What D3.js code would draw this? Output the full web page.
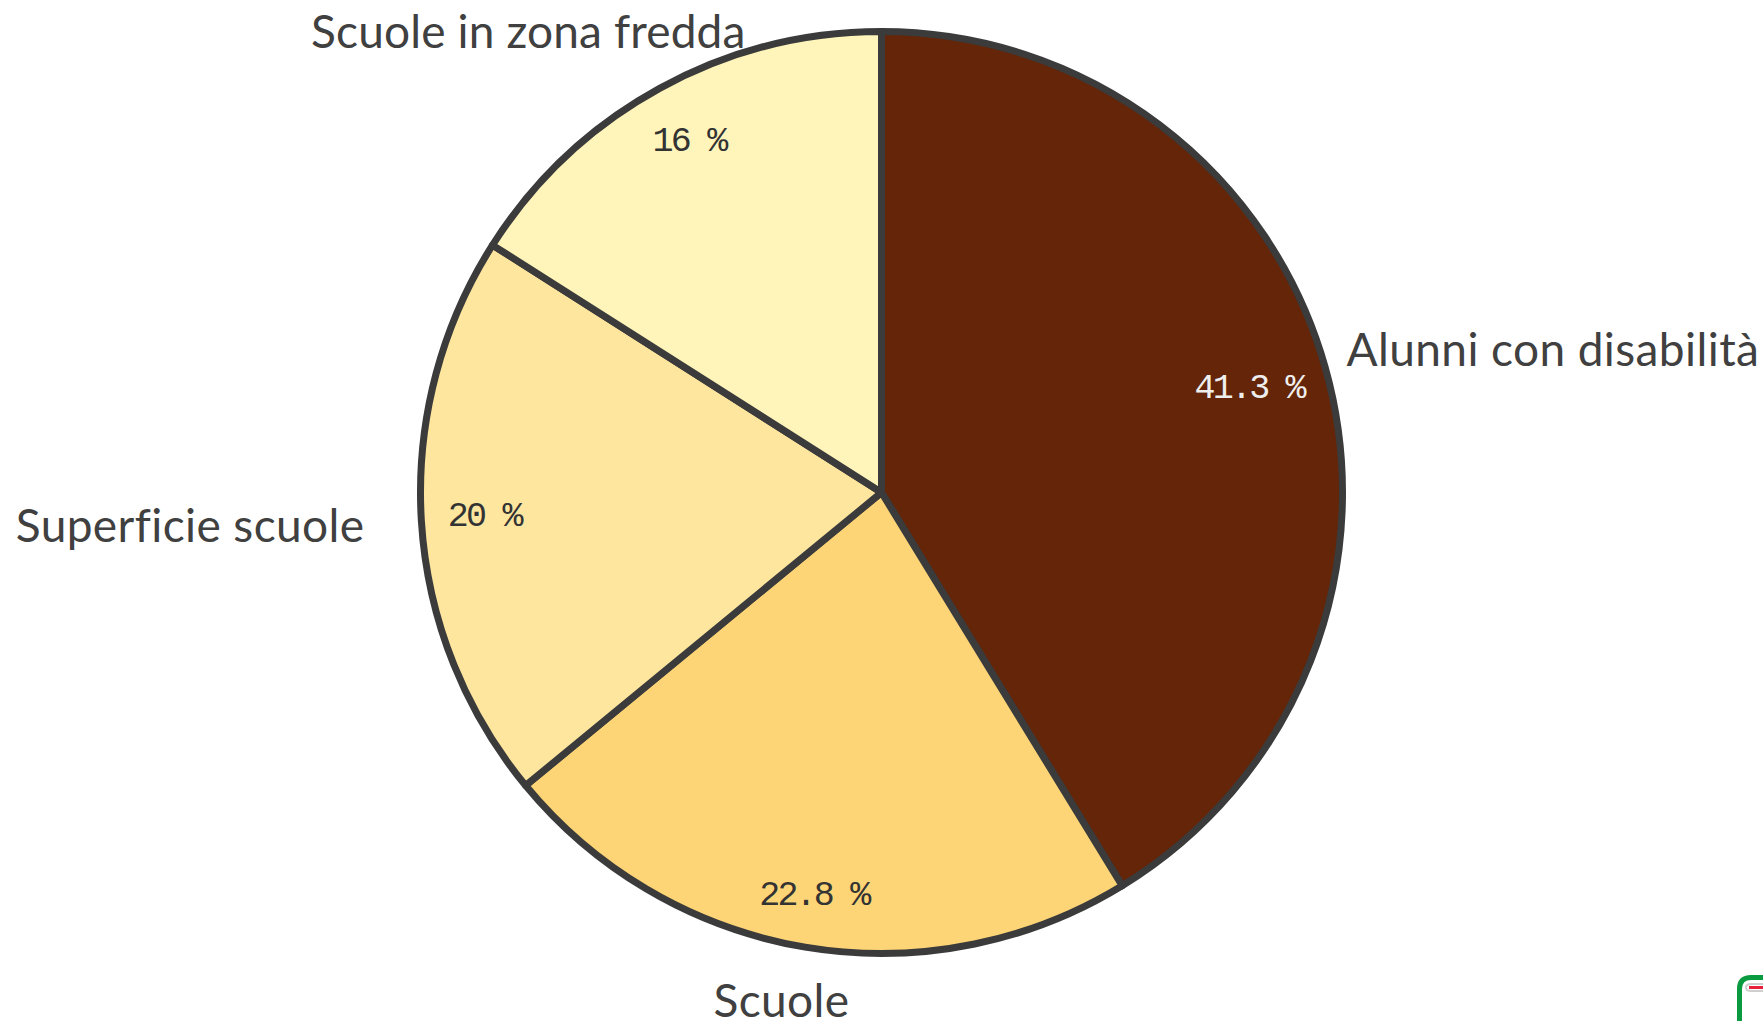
<!DOCTYPE html>
<html><head><meta charset="utf-8">
<script src="https://cdnjs.cloudflare.com/ajax/libs/d3/7.8.5/d3.min.js"></script>
<style>html,body{margin:0;padding:0;background:#fff;overflow:hidden}svg{display:block}</style>
</head><body><svg id="c" width="1763" height="1021"></svg>
<script>
const categories = ["Alunni con disabilità","Scuole","Superficie scuole","Scuole in zona fredda"];
const values = [41.3,22.8,20,16];
const valueLabels = ["41.3 %","22.8 %","20 %","16 %"];
const colors = ["#642508","#fdd576","#fee69f","#fff5bb"];
const labelColors = ["#eeeeee","#333333","#333333","#333333"];

const svg = d3.select("#c"), cx = 881.5, cy = 492.5, R = 461;
const g = svg.append("g").attr("transform",`translate(${cx},${cy})`);
const pie = d3.pie().sort(null).value(d=>d)(values);
const arc = d3.arc().innerRadius(0).outerRadius(R);
g.selectAll("path").data(pie).join("path").attr("d",arc)
 .attr("fill",(d,i)=>colors[i]).attr("stroke","#3b3b3b").attr("stroke-width",7).attr("stroke-linejoin","round");

const valueRadius = [382,409,398,400];
g.selectAll("text.v").data(pie).join("text").attr("class","v")
 .attr("transform",(d,i)=>{const a=(d.startAngle+d.endAngle)/2,r=valueRadius[i];return `translate(${r*Math.sin(a)},${-r*Math.cos(a)})`;})
 .attr("text-anchor","middle").attr("dy","0.27em")
 .attr("font-family","'Liberation Mono',monospace").attr("font-size",35).attr("letter-spacing",-2.8)
 .attr("fill",(d,i)=>labelColors[i]).text((d,i)=>valueLabels[i]);

// outer label placement relative to the pie centre
const outer = [
 {anchor:"start",dx:465,dy:-127,ls:0.4},
 {anchor:"middle",dx:-100,dy:524,ls:0.4},
 {anchor:"end",dx:-517,dy:49,ls:0.4},
 {anchor:"end",dx:-136,dy:-445,ls:0.15}];
g.selectAll("text.l").data(categories).join("text").attr("class","l")
 .attr("x",(d,i)=>outer[i].dx).attr("y",(d,i)=>outer[i].dy)
 .attr("text-anchor",(d,i)=>outer[i].anchor)
 .attr("font-family","Lato, 'Open Sans', sans-serif").attr("font-size",46).attr("letter-spacing",(d,i)=>outer[i].ls)
 .style("font-variant-ligatures","none")
 .attr("fill","#404040").text(d=>d);

// corner logo fragment
const logo = svg.append("g").attr("fill","none");
logo.append("path").attr("d","M1739.5 1021V989Q1739.5 977.5 1751 977.5H1763").attr("stroke","#0a9a40").attr("stroke-width",5);
logo.append("path").attr("d","M1763 984H1751Q1746 984 1746 987.5Q1746 991 1751 991H1763").attr("stroke","#cfcfcf").attr("stroke-width",2);
logo.append("path").attr("d","M1749 987.5H1763").attr("stroke","#e8203c").attr("stroke-width",3);
</script></body></html>
